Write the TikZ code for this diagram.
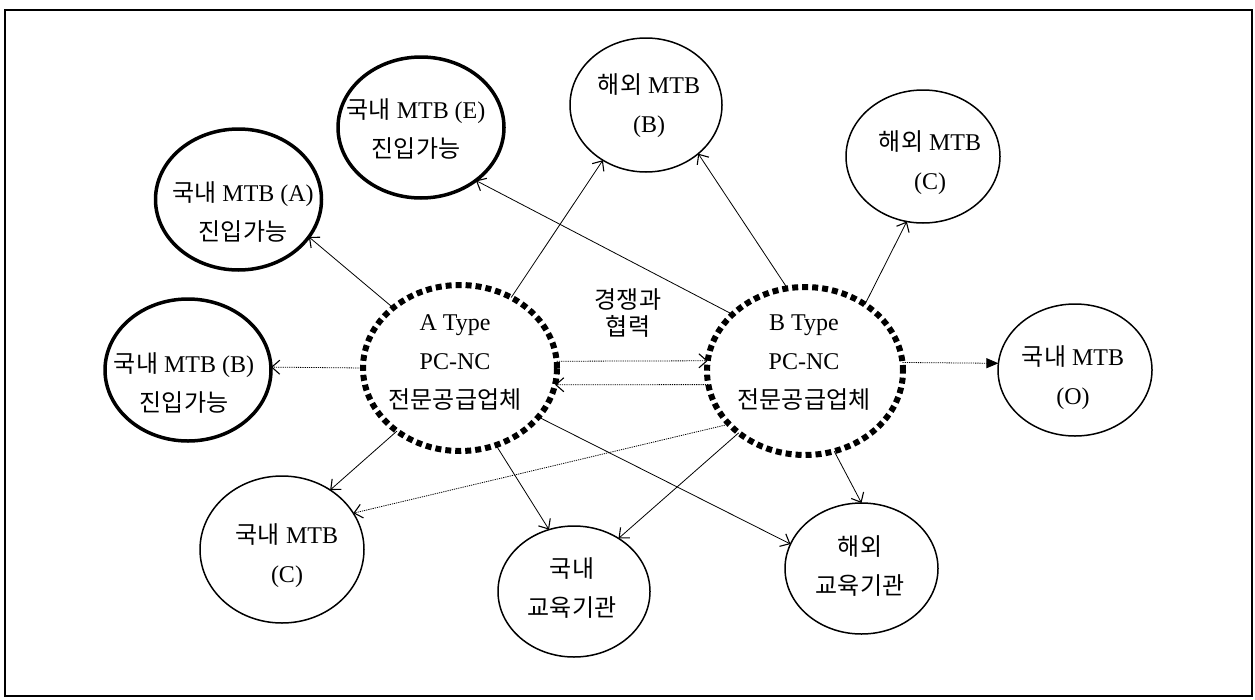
\documentclass[tikz,border=0pt]{standalone}
\usepackage{fontspec}
\setmainfont{Liberation Serif}
\newfontfamily\kr[Scale=1.0]{Noto Sans CJK KR}
\usetikzlibrary{shapes.geometric,arrows.meta}
\begin{document}
\begin{tikzpicture}[x=1pt,y=-1pt,
  ell/.style={ellipse, draw, inner sep=0pt, outer sep=0pt, line width=1.5pt},
  thickell/.style={ell, line width=3.5pt},
  dotell/.style={ell, line width=6pt, dash pattern=on 6pt off 4pt},
  txt/.style={align=center, inner sep=0pt, font=\fontsize{24}{39}\selectfont},
  conn/.style={line width=0.8pt, -{Straight Barb[length=8pt,width=14pt,line width=1.1pt]}},
  dconn/.style={conn, dash pattern=on 1.2pt off 1pt},
  fconn/.style={line width=0.8pt, dash pattern=on 1.2pt off 1pt, -{Triangle[length=12pt,width=10pt]}}
]
\useasboundingbox (0,0) rectangle (1255,699);
\draw[line width=2pt] (5,10) rectangle (1252,696);

% ellipses
\node[thickell, minimum width=166pt, minimum height=141pt] (MA) at (238.5,199.5) {};
\node[thickell, minimum width=166pt, minimum height=141pt] (ME) at (421,127.5) {};
\node[ell, minimum width=152pt, minimum height=134pt] (OB) at (646,105) {};
\node[ell, minimum width=154pt, minimum height=133pt] (OC) at (923,156.5) {};
\node[thickell, minimum width=166pt, minimum height=142pt] (MB) at (188,370) {};
\node[dotell, minimum width=194pt, minimum height=166pt] (A) at (460,368) {};
\node[dotell, minimum width=196pt, minimum height=168pt] (B) at (805,371) {};
\node[ell, minimum width=154pt, minimum height=132pt] (MO) at (1075,370) {};
\node[ell, minimum width=164pt, minimum height=147pt] (MC) at (282,549.5) {};
\node[ell, minimum width=152pt, minimum height=131pt] (KE) at (574,591.5) {};
\node[ell, minimum width=153pt, minimum height=131pt] (OE) at (861.5,568.5) {};

% connectors
\draw[conn] (A.138) -- (MA.-28);
\draw[conn] (A.54) -- (OB.232);
\draw[conn] (B.142) -- (ME.-44);
\draw[conn] (B.102) -- (OB.-43);
\draw[conn] (B.48) -- (OC.-104);
\draw[dconn] (A.180) -- (MB.2);
\draw[dconn] (A.4) -- (B.174);
\draw[dconn] (B.188) -- (A.-10);
\draw[fconn] (B.5) -- (MO.175);
\draw[conn] (A.225) -- (MC.51);
\draw[dconn] (B.215) -- (MC.27);
\draw[conn] (A.-65) -- (KE.112);
\draw[conn] (A.-32) -- (OE.161);
\draw[conn] (B.223) -- (KE.50);
\draw[conn] (B.-70) -- (OE.90);

% texts
\node[txt] (MAt) at (243,211.5) {{\kr 국내} MTB (A)\\{\kr 진입가능}};
\node[txt] (MEt) at (416,129) {{\kr 국내} MTB (E)\\{\kr 진입가능}};
\node[txt] (OBt) at (649,105.5) {{\kr 해외} MTB\\(B)};
\node[txt] (OCt) at (930,163) {{\kr 해외} MTB\\(C)};
\node[txt] (MBt) at (184,382.5) {{\kr 국내} MTB (B)\\{\kr 진입가능}};
\node[txt] (At) at (455,363) {A Type\\PC-NC\\{\kr 전문공급업체}};
\node[txt] (Bt) at (804,363) {B Type\\PC-NC\\{\kr 전문공급업체}};
\node[txt] (MOt) at (1073,377.5) {{\kr 국내} MTB\\(O)};
\node[txt] (MCt) at (287,556) {{\kr 국내} MTB\\(C)};
\node[txt] (KEt) at (572,588) {{\kr 국내}\\{\kr 교육기관}};
\node[txt] (OEt) at (860,566) {{\kr 해외}\\{\kr 교육기관}};
\node[txt, font=\fontsize{24}{27}\selectfont] (lbl) at (628,313.5) {{\kr 경쟁과}\\{\kr 협력}};
\end{tikzpicture}
\end{document}
